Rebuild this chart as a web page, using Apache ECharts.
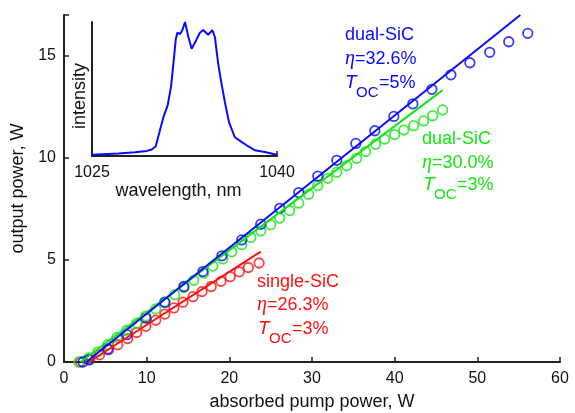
<!DOCTYPE html>
<html><head><meta charset="utf-8">
<script src="https://cdn.jsdelivr.net/npm/echarts@6/dist/echarts.min.js"></script>
<style>html,body{margin:0;padding:0;background:#fff}#c{width:575px;height:413px}</style>
</head><body><div id="c"></div>
<script>
// ---- data ----
const blueX = [2.3, 3.0, 5.3, 7.6, 9.9, 12.2, 14.5, 16.8, 19.1, 21.5, 23.8, 26.1, 28.4, 30.7, 33.0, 35.3, 37.6, 39.9, 42.2, 44.5, 46.8, 49.1, 51.5, 53.8, 56.1];
const blueY = [0.0, 0.12, 0.64, 1.34, 2.15, 2.92, 3.70, 4.43, 5.20, 5.98, 6.75, 7.53, 8.30, 9.11, 9.88, 10.71, 11.33, 12.03, 12.65, 13.36, 14.07, 14.66, 15.17, 15.69, 16.10];
const greenX = [1.8, 3.0, 4.1, 5.3, 6.4, 7.6, 8.8, 9.9, 11.1, 12.2, 13.4, 14.5, 15.7, 16.9, 18.0, 19.2, 20.3, 21.5, 22.6, 23.8, 25.0, 26.1, 27.3, 28.4, 29.6, 30.7, 31.9, 33.0, 34.2, 35.4, 36.5, 37.7, 38.8, 40.0, 41.1, 42.3, 43.5, 44.6, 45.8];
const greenY = [0.0, 0.2, 0.5, 0.85, 1.2, 1.55, 1.9, 2.25, 2.6, 2.95, 3.3, 3.65, 4.0, 4.35, 4.7, 5.05, 5.4, 5.75, 6.1, 6.42, 6.72, 7.05, 7.42, 7.78, 8.22, 8.64, 9.0, 9.3, 9.62, 9.98, 10.31, 10.67, 10.92, 11.14, 11.36, 11.58, 11.81, 12.07, 12.35];
const redX = [2.0, 3.1, 4.3, 5.4, 6.5, 7.7, 8.8, 9.9, 11.1, 12.2, 13.3, 14.4, 15.6, 16.7, 17.8, 19.0, 20.1, 21.2, 22.3, 23.6];
const redY = [0.0, 0.1, 0.35, 0.6, 0.85, 1.15, 1.45, 1.75, 2.05, 2.35, 2.65, 2.93, 3.2, 3.45, 3.7, 3.95, 4.18, 4.42, 4.63, 4.85];
// linear fits (end points)
const blueFitX = [2.7, 55.2], blueFitY = [0.0, 17.0];
const greenFitX = [2.0, 45.8], greenFitY = [0.0, 13.32];
const redFitX = [3.0, 23.8], redFitY = [0.0, 5.41];
// inset spectrum
const waveNm = [1025, 1027.15, 1028.5, 1029.44, 1029.85, 1030.17, 1030.44, 1030.79, 1031.14, 1031.41, 1031.6, 1031.79, 1031.92, 1032.14, 1032.33, 1032.54, 1032.81, 1033.08, 1033.48, 1033.75, 1034.02, 1034.42, 1034.75, 1034.96, 1035.23, 1035.5, 1035.77, 1036.1, 1036.58, 1037.12, 1037.66, 1038.2, 1039.0, 1040];
const intensity = [0.01, 0.018, 0.028, 0.038, 0.048, 0.073, 0.168, 0.29, 0.38, 0.52, 0.69, 0.87, 0.92, 0.91, 0.94, 1.0, 0.89, 0.80, 0.87, 0.92, 0.94, 0.905, 0.94, 0.89, 0.69, 0.54, 0.405, 0.255, 0.14, 0.105, 0.073, 0.043, 0.03, 0.01];
const xTicks = [0, 10, 20, 30, 40, 50, 60];
const yTicks = [0, 5, 10, 15];
const insetTicks = [1025, 1040];

const BLUE = '#0a0aff', GREEN = '#12e612', RED = '#ff1010', AX = '#222';
const FONT = 'Liberation Sans, Arial, Helvetica, sans-serif';
const zip = (a, b) => a.map((v, i) => [v, b[i]]);

function scatter(name, xs, ys, color) {
  return { name, type: 'scatter', data: zip(xs, ys), symbol: 'circle', symbolSize: 9.5,
    itemStyle: { color: 'rgba(0,0,0,0)', borderColor: color, borderWidth: 1.8 }, z: 3 };
}
function fit(name, xs, ys, color) {
  return { name, type: 'line', data: zip(xs, ys), showSymbol: false, symbol: 'none',
    lineStyle: { color, width: 2 }, z: 4 };
}
const axisCommon = {
  axisLine: { show: true, lineStyle: { color: AX, width: 2 } },
  axisTick: { show: true, inside: true, length: 5, lineStyle: { color: AX, width: 1.5 } },
  splitLine: { show: false }
};

const chart = echarts.init(document.getElementById('c'), null, { renderer: 'canvas' });
const txt = (x, y, text, color, size, extra) => ({ type: 'text', x, y,
  style: Object.assign({ text, fill: color, fontSize: size, fontFamily: FONT, verticalAlign: 'middle', align: 'left' }, extra || {}) });
const eta = (x, y, rest, color) => ({ type: 'text', x, y, style: {
  text: '{e|η}' + rest, fill: color, fontSize: 18, fontFamily: FONT, verticalAlign: 'middle', align: 'left',
  rich: { e: { fontStyle: 'italic', fontFamily: 'Liberation Serif, DejaVu Serif, serif', fontSize: 20, fill: color } } } });
const toc = (x, y, rest, color) => [
  txt(x, y, 'T', color, 19, { fontStyle: 'italic' }),
  txt(x + 11, y + 10, 'OC', color, 15),
  txt(x + 34, y, rest, color, 18)
];
const plain = v => String(v);

chart.setOption({
  animation: false,
  backgroundColor: '#fff',
  textStyle: { fontFamily: FONT },
  grid: [
    { left: 64, top: 15, right: 15, bottom: 51, containLabel: false, outerBoundsMode: 'none' },
    { left: 92, top: 22, width: 185, height: 134, containLabel: false, outerBoundsMode: 'none' }
  ],
  xAxis: [
    Object.assign({ type: 'value', gridIndex: 0, min: 0, max: 60, interval: 10,
      axisLabel: { fontSize: 16, color: '#111', margin: 9, customValues: xTicks, formatter: plain },
      name: 'absorbed pump power, W', nameLocation: 'middle', nameGap: 31,
      nameTextStyle: { fontSize: 18, color: '#111' } }, axisCommon),
    Object.assign({ type: 'value', gridIndex: 1, min: 1025, max: 1040,
      axisLabel: { fontSize: 16, color: '#111', margin: 9, customValues: insetTicks, formatter: plain },
      name: 'wavelength, nm', nameLocation: 'middle', nameGap: 21,
      nameTextStyle: { fontSize: 18, color: '#111', padding: [0, 12, 0, 0] } }, axisCommon,
      { axisTick: { show: true, inside: true, length: 5, customValues: insetTicks, lineStyle: { color: AX, width: 1.5 } } })
  ],
  yAxis: [
    Object.assign({ type: 'value', gridIndex: 0, min: 0, max: 17, interval: 5,
      axisLabel: { fontSize: 16, color: '#111', margin: 8, customValues: yTicks, formatter: plain },
      name: 'output power, W', nameLocation: 'middle', nameGap: 24,
      nameTextStyle: { fontSize: 18, color: '#111' } }, axisCommon),
    Object.assign({ type: 'value', gridIndex: 1, min: 0, max: 1,
      axisLabel: { show: false },
      name: 'intensity', nameLocation: 'middle', nameGap: 3,
      nameTextStyle: { fontSize: 18, color: '#111', padding: [0, 14, 0, 0] } }, axisCommon,
      { axisTick: { show: false } })
  ],
  series: [
    scatter('single-SiC', redX, redY, RED),
    fit('single-SiC fit', redFitX, redFitY, RED),
    scatter('dual-SiC 3%', greenX, greenY, GREEN),
    fit('dual-SiC 3% fit', greenFitX, greenFitY, GREEN),
    scatter('dual-SiC 5%', blueX, blueY, BLUE),
    fit('dual-SiC 5% fit', blueFitX, blueFitY, BLUE),
    { name: 'spectrum', type: 'line', xAxisIndex: 1, yAxisIndex: 1, data: zip(waveNm, intensity),
      showSymbol: false, symbol: 'none', lineStyle: { color: BLUE, width: 2 } }
  ],
  graphic: [
    txt(345, 35, 'dual-SiC', BLUE, 18),
    eta(345, 59, '=32.6%', BLUE),
    ...toc(345, 83, '=5%', BLUE),
    txt(422, 139, 'dual-SiC', GREEN, 18),
    eta(422, 163, '=30.0%', GREEN),
    ...toc(423, 185, '=3%', GREEN),
    txt(257, 282, 'single-SiC', RED, 18),
    eta(257, 305, '=26.3%', RED),
    ...toc(258, 329, '=3%', RED)
  ]
});
</script></body></html>
